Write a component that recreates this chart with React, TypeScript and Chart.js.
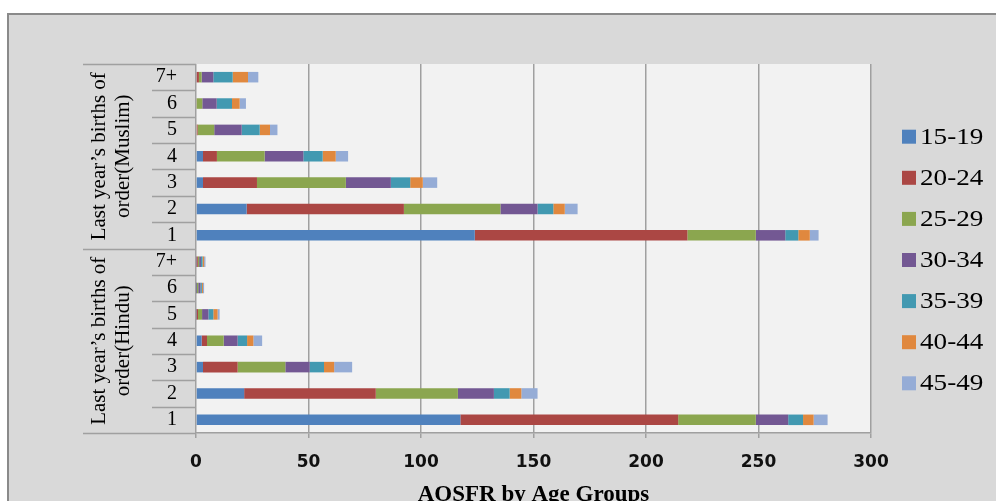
import React, { useEffect, useRef } from "react";
import { Chart, registerables } from "chart.js";

Chart.register(...registerables);

const categories = ["7+", "6", "5", "4", "3", "2", "1", "7+", "6", "5", "4", "3", "2", "1"];
const groupLabels = [
  ["Last year’s births of", "order(Muslim)"],
  ["Last year’s births of", "order(Hindu)"],
];
const seriesNames = ["15-19", "20-24", "25-29", "30-34", "35-39", "40-44", "45-49"];
const seriesColors = ["#4f81bd", "#ab4744", "#8ba64f", "#735893", "#4299b1", "#e0883e", "#95acd6"];

// Muslim 7+..1, then Hindu 7+..1
const age15_19 = [0.3, 0, 0, 3.1, 3.1, 22.5, 123.9, 0.2, 0.1, 0.2, 2.5, 3.1, 21.4, 117.5];
const age20_24 = [1.0, 0.3, 0.7, 6.2, 24.0, 69.9, 94.5, 0.6, 0.3, 0.7, 2.4, 15.4, 58.5, 96.8];
const age25_29 = [1.2, 2.5, 7.4, 21.2, 39.5, 42.9, 30.4, 0.6, 0.6, 1.8, 7.4, 21.2, 36.5, 34.5];
const age30_34 = [5.2, 6.4, 12.2, 17.2, 20.0, 16.5, 13.1, 0.8, 1.0, 2.8, 6.2, 10.8, 16.0, 14.4];
const age35_39 = [8.6, 6.8, 8.0, 8.6, 8.6, 7.0, 5.8, 0.7, 0.6, 2.2, 4.2, 6.4, 7.0, 6.6];
const age40_44 = [6.8, 3.4, 4.6, 5.8, 5.6, 5.1, 5.1, 0.7, 0.5, 1.9, 2.8, 4.5, 5.2, 4.7];
const age45_49 = [4.6, 2.8, 3.3, 5.5, 6.4, 5.7, 3.9, 0.6, 0.5, 0.9, 3.9, 8.0, 7.2, 6.2];

const seriesValues = [age15_19, age20_24, age25_29, age30_34, age35_39, age40_44, age45_49];

const xTitle = "AOSFR by Age Groups";
const xMin = 0;
const xMax = 300;
const xStep = 50;

const SERIF = "'Liberation Serif', 'Times New Roman', serif";
const SANS = "'DejaVu Sans', Arial, sans-serif";
const LINE = "#a0a0a0";

export default function App() {
  const ref = useRef<HTMLCanvasElement | null>(null);

  useEffect(() => {
    if (!ref.current) return;

    const bgPlugin = {
      id: "plotBg",
      beforeDraw(chart: any) {
        const { ctx, chartArea } = chart;
        ctx.save();
        ctx.fillStyle = "#f2f2f2";
        ctx.fillRect(chartArea.left, chartArea.top, chartArea.right - chartArea.left, chartArea.bottom - chartArea.top);
        ctx.restore();
      },
    };

    const groupPlugin = {
      id: "groups",
      afterDraw(chart: any) {
        const { ctx, chartArea } = chart;
        const n = categories.length;
        const half = n / 2;
        const step = (chartArea.bottom - chartArea.top) / n;
        ctx.save();
        ctx.strokeStyle = LINE;
        ctx.lineWidth = 1.3;
        // category separators (short) and group separators (long)
        for (let i = 0; i <= n; i++) {
          const b = Math.round(chartArea.top + step * i) + 0.5;
          const isGroup = i === 0 || i === half || i === n;
          ctx.beginPath();
          ctx.moveTo(isGroup ? 74 : chartArea.left - 44, b);
          ctx.lineTo(chartArea.left, b);
          ctx.stroke();
        }
        const bounds = [chartArea.top, chartArea.top + step * half, chartArea.bottom];
        ctx.fillStyle = "#000";
        ctx.font = `21px ${SERIF}`;
        ctx.textAlign = "center";
        ctx.textBaseline = "middle";
        groupLabels.forEach((lines, gi) => {
          const cy = (bounds[gi] + bounds[gi + 1]) / 2;
          lines.forEach((t, li) => {
            const cx = 90 + li * 24;
            ctx.save();
            ctx.translate(cx, cy);
            ctx.rotate(-Math.PI / 2);
            ctx.fillText(t, 0, 0);
            ctx.restore();
          });
        });

        // legend
        const datasets = chart.data.datasets;
        const lx = 893;
        const ly0 = 121.7;
        const gap = 41.1;
        ctx.font = `23px ${SERIF}`;
        ctx.textAlign = "left";
        datasets.forEach((ds: any, i: number) => {
          const cy = ly0 + i * gap;
          ctx.fillStyle = ds.backgroundColor;
          ctx.fillRect(lx, cy - 7, 14, 14);
          ctx.fillStyle = "#000";
          ctx.save();
          ctx.translate(lx + 18, cy + 1);
          ctx.scale(1.18, 1);
          ctx.fillText(ds.label, 0, 0);
          ctx.restore();
        });
        ctx.restore();
      },
    };

    const chart = new Chart(ref.current, {
      type: "bar",
      data: {
        labels: categories,
        datasets: seriesNames.map((name, i) => ({
          label: name,
          data: seriesValues[i],
          backgroundColor: seriesColors[i],
          borderWidth: 0,
          categoryPercentage: 0.4,
          barPercentage: 1,
        })),
      },
      options: {
        indexAxis: "y",
        responsive: false,
        animation: false,
        layout: { padding: { top: 49, right: 125, left: 0, bottom: 0 } },
        plugins: {
          legend: { display: false },
          tooltip: { enabled: false },
          title: { display: false },
        },
        scales: {
          x: {
            stacked: true,
            min: xMin,
            max: xMax,
            ticks: {
              stepSize: xStep,
              color: "#111",
              font: { family: SANS, size: 17, weight: "bold" },
              padding: 14,
              maxRotation: 0,
            },
            grid: {
              color: LINE,
              lineWidth: 1.5,
              tickLength: 5,
              drawTicks: true,
            },
            border: { display: true, color: LINE, width: 1.5 },
            title: {
              display: true,
              text: xTitle,
              color: "#000",
              font: { family: SERIF, size: 23, weight: "bold" },
              padding: { top: 4, bottom: 2 },
            },
            afterFit(scale: any) {
              scale.height = 78;
            },
          },
          y: {
            stacked: true,
            ticks: {
              color: "#000",
              font: { family: SERIF, size: 20 },
              crossAlign: "near",
              padding: 11,
              autoSkip: false,
            },
            grid: { display: false },
            border: { display: false },
            afterFit(scale: any) {
              scale.width = 187;
            },
          },
        },
      },
      plugins: [bgPlugin, groupPlugin],
    } as any);

    return () => chart.destroy();
  }, []);

  return (
    <div
      style={{
        position: "fixed",
        left: 7,
        top: 13,
        width: 989,
        height: 498,
        boxSizing: "border-box",
        borderTop: "2px solid #8a8a8a",
        borderLeft: "2px solid #8a8a8a",
        background: "#d9d9d9",
        overflow: "hidden",
      }}
    >
      <canvas ref={ref} width={987} height={496} style={{ display: "block" }} />
    </div>
  );
}
